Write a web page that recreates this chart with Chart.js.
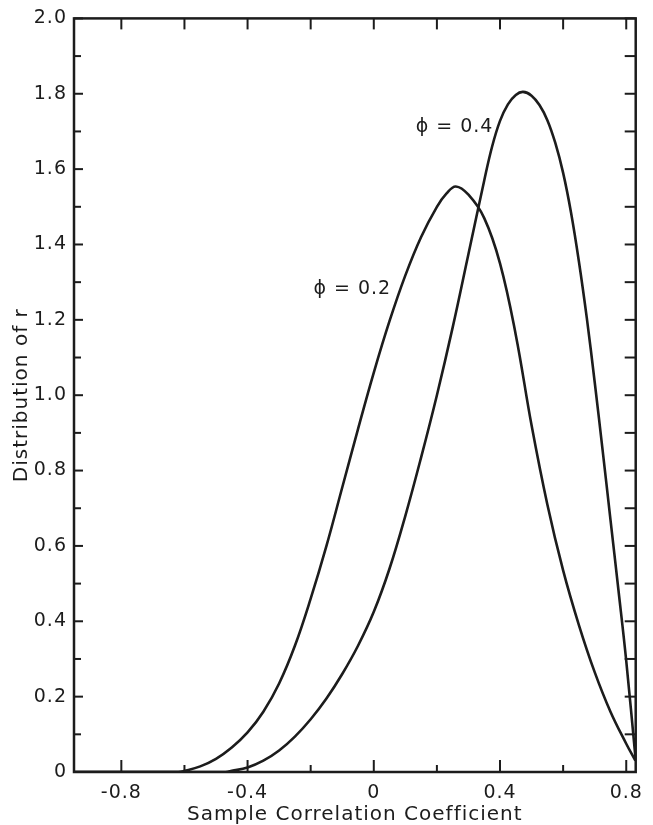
<!DOCTYPE html>
<html>
<head>
<meta charset="utf-8">
<script src="https://cdn.jsdelivr.net/npm/chart.js@4.4.1/dist/chart.umd.min.js"></script>
<style>
html,body{margin:0;padding:0;background:#fff;}
canvas{display:block;}
</style>
</head>
<body>
<canvas id="c" width="653" height="825"></canvas>
<script>
// ---- data ----
const seriesNames = ['\u03D5 = 0.2', '\u03D5 = 0.4'];

const rPhi02 = [-0.95, -0.62, -0.6, -0.55, -0.5, -0.45, -0.4, -0.35, -0.3, -0.25, -0.2, -0.15, -0.1, -0.05, 0, 0.05, 0.1, 0.15, 0.2, 0.23, 0.26, 0.3, 0.35, 0.4, 0.45, 0.5, 0.55, 0.6, 0.65, 0.7, 0.75, 0.8, 0.829];
const dPhi02 = [0, 0, 0.003, 0.015, 0.035, 0.065, 0.105, 0.16, 0.235, 0.335, 0.46, 0.6, 0.755, 0.91, 1.06, 1.197, 1.318, 1.42, 1.5, 1.535, 1.554, 1.532, 1.47, 1.35, 1.16, 0.92, 0.71, 0.535, 0.39, 0.265, 0.16, 0.075, 0.03];

const rPhi04 = [-0.95, -0.47, -0.45, -0.4, -0.35, -0.3, -0.25, -0.2, -0.15, -0.1, -0.05, 0, 0.05, 0.1, 0.15, 0.2, 0.25, 0.3, 0.35, 0.375, 0.4, 0.425, 0.45, 0.473, 0.5, 0.525, 0.55, 0.575, 0.6, 0.625, 0.65, 0.675, 0.7, 0.725, 0.75, 0.775, 0.8, 0.829];
const dPhi04 = [0, 0, 0.003, 0.012, 0.03, 0.057, 0.094, 0.14, 0.195, 0.26, 0.335, 0.425, 0.54, 0.68, 0.835, 1.0, 1.18, 1.375, 1.57, 1.66, 1.728, 1.772, 1.797, 1.805, 1.795, 1.77, 1.73, 1.67, 1.59, 1.485, 1.355, 1.205, 1.035, 0.855, 0.67, 0.485, 0.295, 0.04];

const xTickValues  = [-0.8, -0.6, -0.4, -0.2, 0, 0.2, 0.4, 0.6, 0.8];
const xLabelValues = [-0.8, -0.4, 0, 0.4, 0.8];
const xTickLabels  = ['-0.8', '-0.4', '0', '0.4', '0.8'];
const yLabelValues = [0, 0.2, 0.4, 0.6, 0.8, 1.0, 1.2, 1.4, 1.6, 1.8, 2.0];
const yTickLabels  = ['0', '0.2', '0.4', '0.6', '0.8', '1.0', '1.2', '1.4', '1.6', '1.8', '2.0'];
const yMinorValues = [0.1, 0.3, 0.5, 0.7, 0.9, 1.1, 1.3, 1.5, 1.7, 1.9];

const xTitle = 'Sample Correlation Coefficient';
const yTitle = 'Distribution of r';

// ---- styling ----
const INK = '#1c1c1c';
const FONT = '"DejaVu Sans", sans-serif';

const toPoints = (xs, ys) => xs.map((v, i) => ({ x: v, y: ys[i] }));

const frameTicks = {
  id: 'frameTicks',
  beforeLayout(chart) { chart.ctx.letterSpacing = '1px'; },
  beforeDraw(chart) {
    const c = chart.ctx;
    c.save(); c.fillStyle = '#fff'; c.fillRect(0, 0, chart.width, chart.height); c.restore();
    c.letterSpacing = '1px';
  },
  afterDatasetsDraw(chart, args, opts) {
    const { ctx, chartArea: a, scales: { x, y } } = chart;
    const line = (x1, y1, x2, y2) => { ctx.beginPath(); ctx.moveTo(x1, y1); ctx.lineTo(x2, y2); ctx.stroke(); };
    ctx.save();
    ctx.strokeStyle = INK;
    ctx.lineWidth = 2.5;
    ctx.strokeRect(a.left, a.top, a.right - a.left, a.bottom - a.top);
    ctx.lineWidth = 2;
    xTickValues.forEach(v => {
      const px = x.getPixelForValue(v);
      const major = xLabelValues.includes(v);
      line(px, a.bottom, px, a.bottom - (major ? 12 : 7));
      line(px, a.top, px, a.top + 11);
    });
    yLabelValues.forEach(v => {
      const py = y.getPixelForValue(v);
      line(a.left, py, a.left + 9, py);
      line(a.right, py, a.right - 11, py);
    });
    yMinorValues.forEach(v => {
      const py = y.getPixelForValue(v);
      line(a.left, py, a.left + 7, py);
      line(a.right, py, a.right - 11, py);
    });
    // curve annotations
    ctx.fillStyle = INK;
    ctx.font = '19px ' + FONT;
    ctx.textAlign = 'center';
    ctx.textBaseline = 'middle';
    opts.anchors.forEach((p, i) => {
      ctx.fillText(chart.data.datasets[i].label, x.getPixelForValue(p.x), y.getPixelForValue(p.y));
    });
    ctx.restore();
  }
};

new Chart(document.getElementById('c'), {
  type: 'scatter',
  data: {
    datasets: [
      { label: seriesNames[0], data: toPoints(rPhi02, dPhi02) },
      { label: seriesNames[1], data: toPoints(rPhi04, dPhi04) }
    ]
  },
  options: {
    responsive: false,
    animation: false,
    devicePixelRatio: 1,
    showLine: true,
    layout: { padding: { top: 18, right: 9, left: 0, bottom: 0 } },
    elements: {
      point: { radius: 0, hoverRadius: 0 },
      line: { borderColor: INK, borderWidth: 2.6, tension: 0.4, fill: false }
    },
    plugins: {
      legend: { display: false },
      tooltip: { enabled: false },
      frameTicks: { anchors: [ { x: -0.068, y: 1.281 }, { x: 0.256, y: 1.712 } ] }
    },
    scales: {
      x: {
        type: 'linear', min: -0.95, max: 0.83,
        afterBuildTicks: s => { s.ticks = xLabelValues.map(v => ({ value: v })); },
        afterFit: s => { s.height = 53; },
        ticks: {
          callback: (v, i) => xTickLabels[i],
          autoSkip: false, maxRotation: 0, minRotation: 0, includeBounds: false,
          padding: 10, color: INK, font: { family: FONT, size: 19 }
        },
        grid: { display: false, drawTicks: false },
        border: { display: false },
        title: { display: true, text: xTitle, color: INK, font: { family: FONT, size: 20, lineHeight: 1.0 }, padding: { top: 0, bottom: 0 } }
      },
      y: {
        type: 'linear', min: 0, max: 2.0,
        afterBuildTicks: s => { s.ticks = yLabelValues.map(v => ({ value: v })); },
        afterFit: s => { s.width = 74; },
        ticks: {
          callback: (v, i) => yTickLabels[i],
          autoSkip: false, includeBounds: false,
          padding: 7, color: INK, font: { family: FONT, size: 19 }
        },
        grid: { display: false, drawTicks: false },
        border: { display: false },
        title: { display: true, text: yTitle, color: INK, font: { family: FONT, size: 20, lineHeight: 1.0 }, padding: { top: 12, bottom: 0 } }
      }
    }
  },
  plugins: [frameTicks]
});
</script>
</body>
</html>
